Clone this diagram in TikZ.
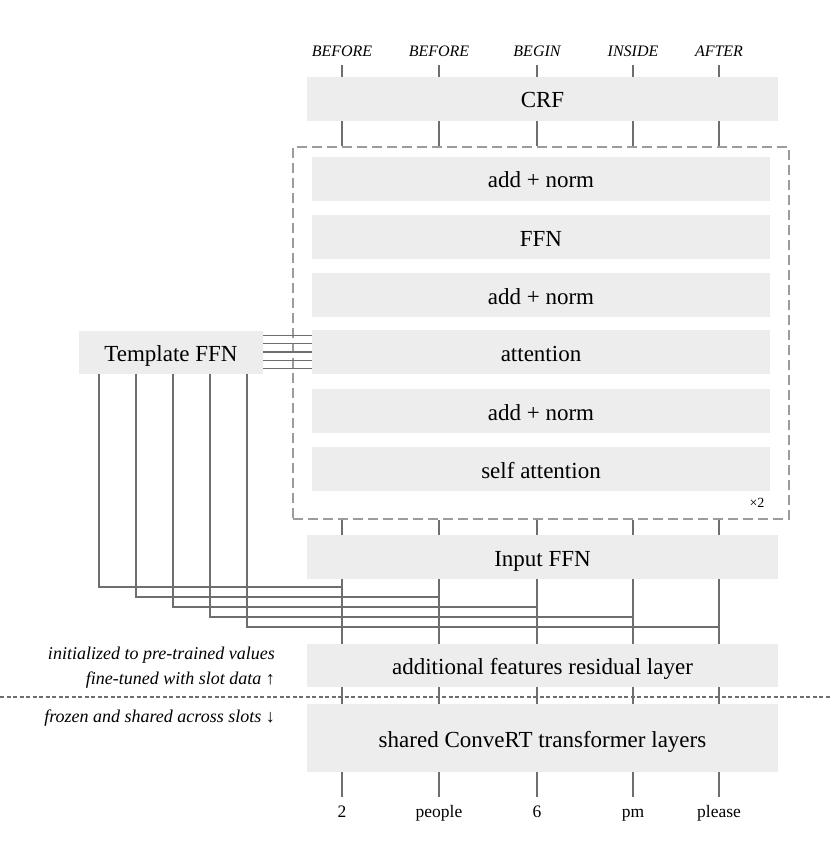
\documentclass[tikz,border=0pt]{standalone}
\usepackage{fontspec}
\setmainfont{Liberation Serif}
\definecolor{boxfill}{HTML}{EDEDED}
\definecolor{wire}{HTML}{6E6E6E}
\definecolor{frame}{HTML}{9C9C9C}

\begin{document}
\begin{tikzpicture}[x=1pt, y=-1pt,
   layer/.style ={rectangle, fill=boxfill, inner sep=0pt, minimum height=44pt, text height=20pt, text depth=2pt, font=\fontsize{23}{27}\selectfont},
   wide/.style ={layer, minimum width=471pt},
   inner/.style ={layer, minimum width=458pt},
   tag/.style ={anchor=base, inner xsep=0pt, inner ysep=8pt, text height=11pt, text depth=0pt, font=\fontsize{16}{19}\selectfont\itshape},
   word/.style ={anchor=base, inner xsep=0pt, inner ysep=9pt, text height=11pt, text depth=0pt, font=\fontsize{17.5}{20}\selectfont},
   note/.style ={anchor=east, inner sep=0pt, font=\fontsize{18}{21}\selectfont\itshape},
   link/.style ={draw=wire, line width=1.4pt}]
   \useasboundingbox (0,0) rectangle (831,842);

   % output tags
   \node[tag] (t1) at (342,57) {BEFORE};
   \node[tag] (t2) at (439,57) {BEFORE};
   \node[tag] (t3) at (537,57) {BEGIN};
   \node[tag] (t4) at (633,57) {INSIDE};
   \node[tag] (t5) at (719,57) {AFTER};

   \node[wide] (crf) at (542.5,99) {CRF};

   % repeated block
   \node[draw=frame, line width=2.2pt, dash pattern=on 10pt off 5pt, minimum width=496pt, minimum height=372pt, inner sep=0pt] (stack) at (541,333) {};
   \node[inner] (an3) at (541,179) {add + norm};
   \node[inner] (ffn) at (541,237) {FFN};
   \node[inner] (an2) at (541,295) {add + norm};
   \node[inner] (att) at (541,352) {attention};
   \node[inner] (an1) at (541,411) {add + norm};
   \node[inner] (sa)  at (541,469) {self attention};
   \node[inner sep=0pt, font=\fontsize{14}{16}\selectfont] (rep) at (757,503) {×2};

   \node[wide] (inffn) at (542.5,557) {Input FFN};
   \node[layer, minimum width=184pt, minimum height=43pt] (tmpl) at (171,352) {Template FFN};
   \node[wide, minimum height=43pt] (addf) at (542.5,665.5) {additional features residual layer};
   \node[wide, minimum height=68pt] (shared) at (542.5,738) {shared ConveRT transformer layers};

   % input tokens
   \node[word] (w1) at (342,817) {2};
   \node[word] (w2) at (439,817) {people};
   \node[word] (w3) at (537,817) {6};
   \node[word] (w4) at (633,817) {pm};
   \node[word] (w5) at (719,817) {please};

   \node[note] (init)   at (275,655) {initialized to pre-trained values};
   \node[note] (tuned)  at (275,680) {fine-tuned with slot data \textup{↑}};
   \node[note] (frozen) at (275,718) {frozen and shared across slots \textup{↓}};

   \coordinate (sepl) at (0,697);
   \coordinate (sepr) at (831,697);
   \draw[wire, line width=1.2pt, dash pattern=on 4pt off 2.5pt] (sepl) to (sepr);

   % columns
   \draw[link] (t1.south) to (t1.south |- crf.north) (t1.south |- crf.south) to (t1.south |- stack.north)
      (w1.north |- stack.south) to (w1.north |- inffn.north) (w1.north |- inffn.south) to (w1.north |- addf.north)
      (w1.north |- addf.south) to (w1.north |- shared.north) (w1.north |- shared.south) to (w1.north);
   \draw[link] (t2.south) to (t2.south |- crf.north) (t2.south |- crf.south) to (t2.south |- stack.north)
      (w2.north |- stack.south) to (w2.north |- inffn.north) (w2.north |- inffn.south) to (w2.north |- addf.north)
      (w2.north |- addf.south) to (w2.north |- shared.north) (w2.north |- shared.south) to (w2.north);
   \draw[link] (t3.south) to (t3.south |- crf.north) (t3.south |- crf.south) to (t3.south |- stack.north)
      (w3.north |- stack.south) to (w3.north |- inffn.north) (w3.north |- inffn.south) to (w3.north |- addf.north)
      (w3.north |- addf.south) to (w3.north |- shared.north) (w3.north |- shared.south) to (w3.north);
   \draw[link] (t4.south) to (t4.south |- crf.north) (t4.south |- crf.south) to (t4.south |- stack.north)
      (w4.north |- stack.south) to (w4.north |- inffn.north) (w4.north |- inffn.south) to (w4.north |- addf.north)
      (w4.north |- addf.south) to (w4.north |- shared.north) (w4.north |- shared.south) to (w4.north);
   \draw[link] (t5.south) to (t5.south |- crf.north) (t5.south |- crf.south) to (t5.south |- stack.north)
      (w5.north |- stack.south) to (w5.north |- inffn.north) (w5.north |- inffn.south) to (w5.north |- addf.north)
      (w5.north |- addf.south) to (w5.north |- shared.north) (w5.north |- shared.south) to (w5.north);

   % template into attention
   \draw[link] ([yshift=16.5]tmpl.east) to ([yshift=16.5]att.west);
   \draw[link] ([yshift=8.25]tmpl.east) to ([yshift=8.25]att.west);
   \draw[link] (tmpl.east) to (att.west);
   \draw[link] ([yshift=-8.25]tmpl.east) to ([yshift=-8.25]att.west);
   \draw[link] ([yshift=-16.5]tmpl.east) to ([yshift=-16.5]att.west);

   % template into each token
   \coordinate (j1) at (342,587);
   \coordinate (j2) at (439,597);
   \coordinate (j3) at (537,607);
   \coordinate (j4) at (633,617);
   \coordinate (j5) at (719,627);
   \draw[link] ([xshift=-72]tmpl.south) |- (j1);
   \draw[link] ([xshift=-35]tmpl.south) |- (j2);
   \draw[link] ([xshift=2]tmpl.south) |- (j3);
   \draw[link] ([xshift=39]tmpl.south) |- (j4);
   \draw[link] ([xshift=76]tmpl.south) |- (j5);
 \end{tikzpicture}
\end{document}
